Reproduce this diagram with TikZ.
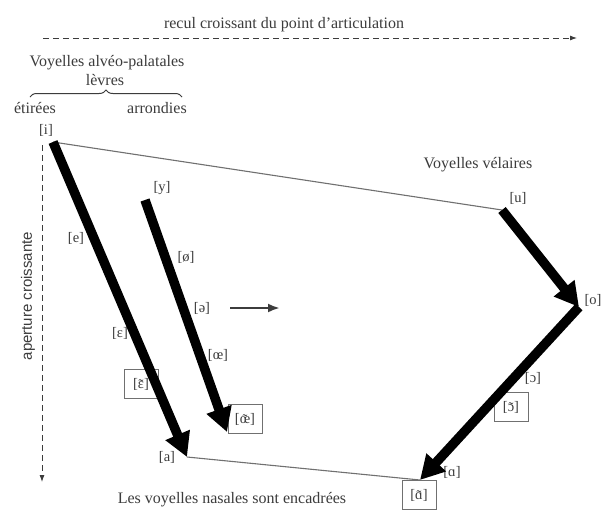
\documentclass[tikz,border=0pt]{standalone}
\usepackage{fontspec}
\setmainfont{Liberation Serif}
\newfontfamily\apsans{Liberation Sans}
\usetikzlibrary{arrows.meta,decorations.pathreplacing}
\definecolor{vocInk}{HTML}{3C3C3C}
\definecolor{vocLine}{HTML}{707070}
\definecolor{vocPaper}{HTML}{FFFFFF}
\newcommand{\nasv}[1]{{\ooalign{#1\cr\hidewidth\raisebox{-0.15ex}{\char"02DC}\hidewidth\cr}}}

\begin{document}
\begin{tikzpicture}[x=1pt,y=-1pt,>=Latex,line join=miter]
\path[fill=vocPaper] (0,0) rectangle (610,517);
\tikzset{lab/.style={text=vocInk,font=\fontsize{14.5}{16}\selectfont,inner sep=1pt},title/.style={text=vocInk,font=\fontsize{16}{18}\selectfont,inner sep=0pt},nasal/.style={lab,draw=vocLine,line width=0.9pt,minimum width=34pt,minimum height=29pt},axis/.style={draw=vocInk,line width=0.9pt,dash pattern=on 6pt off 4pt,-{Latex[length=7pt,width=5pt]}},edge/.style={draw=vocLine,line width=1.1pt},glide/.style={draw=black,line width=9.5pt,-{Triangle[length=24pt,width=25pt]}},drift/.style={draw=vocInk,line width=2.5pt,-{Latex[length=12pt,width=9pt]}}}
% axes
\coordinate (hL) at (43,38); \coordinate (hR) at (577,38);
\coordinate (vT) at (42,145); \coordinate (vB) at (42,482);
\draw[axis] (hL) -- (hR); \draw[axis] (vT) -- (vB);
\node[title] (recul) at (284,25) {recul croissant du point d’articulation};
\node[text=vocInk,font=\apsans\fontsize{15}{17}\selectfont,rotate=90] (aperture) at (28,296) {aperture croissante};
% heading of the front vowels
\node[title] (alveo) at (107,63) {Voyelles alvéo-palatales};
\node[title] (levres) at (105,80) {lèvres};
\coordinate (bL) at (30,97); \coordinate (bR) at (182,97);
\draw[vocInk,line width=1pt,decorate,decoration={brace,amplitude=7pt}] (bL) -- (bR);
\node[title] (etir) at (35,108) {étirées}; \node[title] (arron) at (157,108) {arrondies};
\node[title] (velaires) at (478,165) {Voyelles vélaires};
\node[title] (nasales) at (232,500) {Les voyelles nasales sont encadrées};
% vertices of the vowel chart
\coordinate (iV) at (53,142); \coordinate (aV) at (187,457);
\coordinate (yV) at (145,200); \coordinate (oeV) at (227,432);
\coordinate (uV) at (502,210); \coordinate (oV) at (579,307); \coordinate (ahV) at (420,480);
\draw[edge] (iV) -- (uV); \draw[edge] (aV) -- (ahV);
% nasal vowels (boxed)
\node[nasal] (epsN) at (141,384) {[\nasv{ɛ}]}; \node[nasal] (oeN) at (245,419) {[\nasv{œ}]};
\node[nasal] (opN) at (511,407) {[\nasv{ɔ}]}; \node[nasal] (ahN) at (419,495) {[\nasv{ɑ}]};
% oral vowels
\node[lab] (iL) at (46,130) {[i]}; \node[lab] (eL) at (76,238) {[e]};
\node[lab] (epsL) at (120,333) {[ɛ]}; \node[lab] (aL) at (167,457) {[a]};
\node[lab] (yL) at (162,188) {[y]}; \node[lab] (oslL) at (186,257) {[ø]};
\node[lab] (schwaL) at (202,308) {[ə]}; \node[lab] (oeL) at (218,355) {[œ]};
\node[lab] (uL) at (518,198) {[u]}; \node[lab] (oL) at (593,300) {[o]};
\node[lab] (opL) at (533,378) {[ɔ]}; \node[lab] (ahL) at (452,472) {[ɑ]};
% movements
\draw[glide] (iV) -- (aV); \draw[glide] (yV) -- (oeV);
\draw[glide] (uV) -- (oV); \draw[glide] (oV) -- (ahV);
\coordinate (mA) at (230,308); \coordinate (mB) at (280,308);
\draw[drift] (mA) -- (mB);
\end{tikzpicture}
\end{document}
